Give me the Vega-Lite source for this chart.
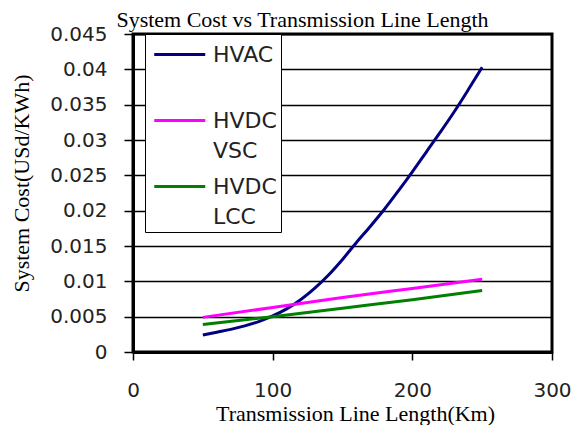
{
  "$schema": "https://vega.github.io/schema/vega-lite/v6.json",
  "width": 419,
  "height": 318,
  "autosize": {"type": "none"},
  "padding": {"left": 133, "top": 34, "right": 32, "bottom": 73},
  "background": "white",
  "title": {
    "text": "System Cost vs Transmission Line Length",
    "font": "Liberation Serif",
    "fontSize": 22,
    "fontWeight": "normal",
    "color": "black",
    "anchor": "middle",
    "frame": "group",
    "baseline": "alphabetic",
    "offset": 0,
    "dy": 25,
    "dx": -40
  },
  "config": {
    "view": {"stroke": "black", "strokeWidth": 3},
    "axis": {"domainColor": "black", "tickColor": "black"}
  },
  "data": {
    "values": [
      {"length": 50, "cost": 0.0024, "system": "HVAC"},
      {"length": 60, "cost": 0.0028, "system": "HVAC"},
      {"length": 70, "cost": 0.0032, "system": "HVAC"},
      {"length": 80, "cost": 0.0037, "system": "HVAC"},
      {"length": 90, "cost": 0.0043, "system": "HVAC"},
      {"length": 100, "cost": 0.0051, "system": "HVAC"},
      {"length": 110, "cost": 0.0061, "system": "HVAC"},
      {"length": 120, "cost": 0.0074, "system": "HVAC"},
      {"length": 130, "cost": 0.0090, "system": "HVAC"},
      {"length": 140, "cost": 0.0109, "system": "HVAC"},
      {"length": 150, "cost": 0.0131, "system": "HVAC"},
      {"length": 160, "cost": 0.0155, "system": "HVAC"},
      {"length": 170, "cost": 0.0178, "system": "HVAC"},
      {"length": 180, "cost": 0.0202, "system": "HVAC"},
      {"length": 190, "cost": 0.0228, "system": "HVAC"},
      {"length": 200, "cost": 0.0255, "system": "HVAC"},
      {"length": 210, "cost": 0.0283, "system": "HVAC"},
      {"length": 220, "cost": 0.0311, "system": "HVAC"},
      {"length": 230, "cost": 0.0340, "system": "HVAC"},
      {"length": 240, "cost": 0.0371, "system": "HVAC"},
      {"length": 250, "cost": 0.0403, "system": "HVAC"},
      {"length": 50, "cost": 0.0049, "system": "HVDC VSC"},
      {"length": 100, "cost": 0.0063, "system": "HVDC VSC"},
      {"length": 150, "cost": 0.0077, "system": "HVDC VSC"},
      {"length": 200, "cost": 0.0090, "system": "HVDC VSC"},
      {"length": 250, "cost": 0.0103, "system": "HVDC VSC"},
      {"length": 50, "cost": 0.0039, "system": "HVDC LCC"},
      {"length": 100, "cost": 0.0050, "system": "HVDC LCC"},
      {"length": 150, "cost": 0.0062, "system": "HVDC LCC"},
      {"length": 200, "cost": 0.0074, "system": "HVDC LCC"},
      {"length": 250, "cost": 0.0087, "system": "HVDC LCC"}
    ]
  },
  "mark": {"type": "line", "strokeWidth": 3, "interpolate": "monotone"},
  "encoding": {
    "x": {
      "field": "length",
      "type": "quantitative",
      "scale": {"domain": [0, 300], "nice": false},
      "axis": {
        "values": [0, 100, 200, 300],
        "grid": false,
        "domainWidth": 3,
        "tickSize": 8,
        "tickWidth": 1.5,
        "labelFont": "DejaVu Sans",
        "labelFontSize": 20,
        "labelColor": "#222222",
        "labelPadding": 20,
        "labelFlush": false,
        "title": "Transmission Line Length(Km)",
        "titleFont": "Liberation Serif",
        "titleFontSize": 22,
        "titleFontWeight": "normal",
        "titleColor": "black",
        "titleX": 222,
        "titleY": 68,
        "titleBaseline": "alphabetic"
      }
    },
    "y": {
      "field": "cost",
      "type": "quantitative",
      "scale": {"domain": [0, 0.045], "nice": false},
      "axis": {
        "values": [0, 0.005, 0.01, 0.015, 0.02, 0.025, 0.03, 0.035, 0.04, 0.045],
        "format": "~g",
        "grid": true,
        "gridColor": "black",
        "gridWidth": 1.5,
        "gridOpacity": 1,
        "domainWidth": 3,
        "tickSize": 9,
        "tickWidth": 1.5,
        "labelFont": "DejaVu Sans",
        "labelFontSize": 20,
        "labelColor": "#222222",
        "labelPadding": 17,
        "labelFlush": false,
        "title": "System Cost(USd/KWh)",
        "titleFont": "Liberation Serif",
        "titleFontSize": 22,
        "titleFontWeight": "normal",
        "titleColor": "black",
        "titleX": -112,
        "titleY": 149,
        "titleAlign": "center",
        "titleBaseline": "middle",
        "titleAngle": -90
      }
    },
    "color": {
      "field": "system",
      "type": "nominal",
      "scale": {
        "domain": ["HVAC", "HVDC VSC", "HVDC LCC"],
        "range": ["#000080", "#FF00FF", "#008000"]
      },
      "legend": {
        "title": null,
        "orient": "none",
        "legendX": 12,
        "legendY": 0,
        "fillColor": "white",
        "strokeColor": "black",
        "padding": 4,
        "symbolType": "M-0.75,0h3.4",
        "symbolSize": 900,
        "symbolStrokeWidth": 3,
        "labelFont": "DejaVu Sans",
        "labelFontSize": 22,
        "labelColor": "#222222",
        "labelOffset": 31,
        "labelBaseline": "top",
        "labelExpr": "datum.label == 'HVAC' ? ['HVAC', ''] : split(datum.label, ' ')",
        "rowPadding": 8,
        "encode": {
          "labels": {
            "update": {
              "dy": {"value": -9.5},
              "lineHeight": {"value": 30}
            }
          }
        }
      }
    }
  }
}
